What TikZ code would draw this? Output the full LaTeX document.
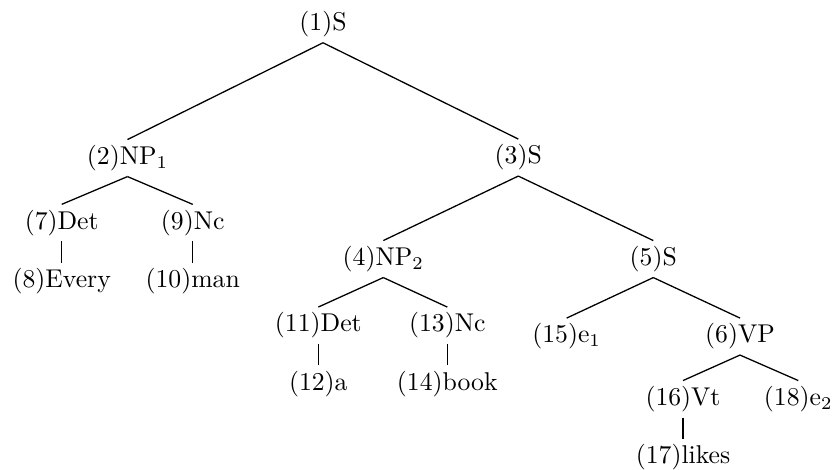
\documentclass[tikz,border=0pt]{standalone}
\begin{document}
\begin{tikzpicture}[x=0.3891pt, y=-0.3891pt,
  tn/.style={anchor=base, inner xsep=0pt, inner ysep=2pt,
             text height=7.5pt, text depth=2.5pt},
  branch/.style={line width=0.5pt}]
\useasboundingbox (0,0) rectangle (836,470);

% tree nodes, placed by their baselines
\node[tn] (n1)  at (323,   30.7) {(1)S};
\node[tn] (n2)  at (127.5, 164.5) {(2)NP$_1$};
\node[tn] (n3)  at (518.3, 164) {(3)S};
\node[tn] (n7)  at (61.7,  229.3) {(7)Det};
\node[tn] (n9)  at (192.7, 229.3) {(9)Nc};
\node[tn] (n8)  at (61.7,  287.7) {(8)Every};
\node[tn] (n10) at (192.7, 287.7) {(10)man};
\node[tn] (n4)  at (383.3, 265.5) {(4)NP$_2$};
\node[tn] (n5)  at (653.3, 265.5) {(5)S};
\node[tn] (n11) at (318.3, 332) {(11)Det};
\node[tn] (n13) at (447.3, 332) {(13)Nc};
\node[tn] (n12) at (318.3, 390.4) {(12)a};
\node[tn] (n14) at (447.3, 390.4) {(14)book};
\node[tn] (n15) at (566.7, 343) {(15)e$_1$};
\node[tn] (n6)  at (740,   343) {(6)VP};
\node[tn] (n16) at (683,   405.5) {(16)Vt};
\node[tn] (n18) at (798.3, 405.5) {(18)e$_2$};
\node[tn] (n17) at (683,   463.9) {(17)likes};

% branches
\draw[branch] (n1.south) -- (n2.north);
\draw[branch] (n1.south) -- (n3.north);
\draw[branch] (n2.south) -- (n7.north);
\draw[branch] (n2.south) -- (n9.north);
\draw[branch] (n7.south) -- (n8.north);
\draw[branch] (n9.south) -- (n10.north);
\draw[branch] (n3.south) -- (n4.north);
\draw[branch] (n3.south) -- (n5.north);
\draw[branch] (n4.south) -- (n11.north);
\draw[branch] (n4.south) -- (n13.north);
\draw[branch] (n11.south) -- (n12.north);
\draw[branch] (n13.south) -- (n14.north);
\draw[branch] (n5.south) -- (n15.north);
\draw[branch] (n5.south) -- (n6.north);
\draw[branch] (n6.south) -- (n16.north);
\draw[branch] (n6.south) -- (n18.north);
\draw[branch] (n16.south) -- (n17.north);
\end{tikzpicture}
\end{document}
